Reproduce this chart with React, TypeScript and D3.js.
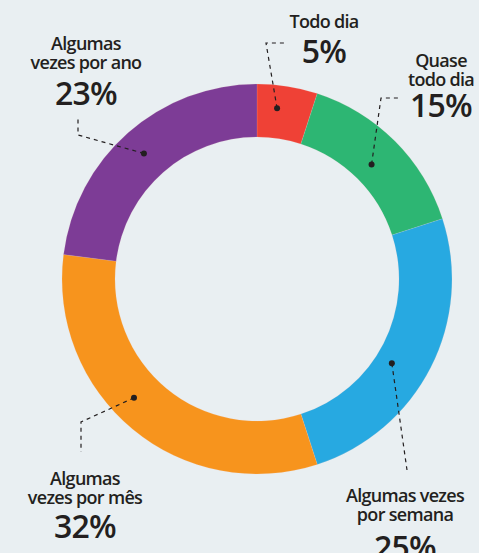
import React from 'react';
import * as d3 from 'd3';

const categories = ['Todo dia', 'Quase todo dia', 'Algumas vezes por semana', 'Algumas vezes por mês', 'Algumas vezes por ano'];
const values = [5, 15, 25, 32, 23];
const colors = ['#ef4136', '#2db673', '#27a9e1', '#f7941d', '#7d3c96'];
const labelLines = [
  ['Todo dia'],
  ['Quase', 'todo dia'],
  ['Algumas vezes', 'por semana'],
  ['Algumas', 'vezes por mês'],
  ['Algumas', 'vezes por ano'],
];

// label layout: text center x, first baseline, percent baseline, leader bends,
// dot offset from slice middle (degrees) and dot radius
const labelLayout = [
  { x: 324, y: 28, pctY: 63, bends: [[266, 43], [287, 43]], shift: -2.3, r: 172 },
  { x: 441, y: 67, pctY: 117, bends: [[381, 98], [401, 98]], shift: 0, r: 162 },
  { x: 405, y: 502, pctY: 559, bends: [[407, 470]], shift: 5, r: 159 },
  { x: 85, y: 485, pctY: 538, bends: [[81, 422], [81, 452]], shift: 6.4, r: 171 },
  { x: 86, y: 50, pctY: 105, bends: [[78, 135], [78, 117]], shift: -0.6, r: 169 },
];

const W = 479;
const H = 553;
const cx = 257;
const cy = 279;
const outerR = 195;
const innerR = 142;

export default function App() {
  const pie = d3.pie<number>().sort(null).value((d) => d);
  const arcs = pie(values);
  const arc = d3.arc<d3.PieArcDatum<number>>().innerRadius(innerR).outerRadius(outerR);
  const font = "'Open Sans', sans-serif";

  return (
    <div style={{ position: 'fixed', left: 0, top: 0 }}>
      <svg width={W} height={H} style={{ display: 'block', background: '#e9eff2' }}>
        <g transform={`translate(${cx},${cy})`}>
          {arcs.map((a, i) => (
            <path key={categories[i]} d={arc(a) || ''} fill={colors[i]} stroke="#f2c9c0" strokeOpacity={0.25} strokeWidth={0.6} />
          ))}
        </g>
        {arcs.map((a, i) => {
          const l = labelLayout[i];
          const ang = (a.startAngle + a.endAngle) / 2 + (l.shift * Math.PI) / 180;
          const px = cx + l.r * Math.sin(ang);
          const py = cy - l.r * Math.cos(ang);
          const pts: [number, number][] = [[px, py], ...(l.bends as [number, number][])];
          const line = d3.line()(pts) || '';
          return (
            <g key={'lead' + i}>
              <path d={line} fill="none" stroke="#231f20" strokeWidth={1.2} strokeDasharray="4,4" />
              <circle cx={px} cy={py} r={3} fill="#231f20" />
            </g>
          );
        })}
        {labelLayout.map((l, i) => (
          <g key={'lab' + i} fill="#231f20" fontFamily={font} textAnchor="middle">
            {labelLines[i].map((t, j) => (
              <text key={j} x={l.x} y={l.y + j * 19} fontSize={18} fontWeight={600} letterSpacing={-0.7}>
                {t}
              </text>
            ))}
            <text x={l.x} y={l.pctY} fontSize={32} fontWeight={600} letterSpacing={-0.8}>
              {values[i]}%
            </text>
          </g>
        ))}
      </svg>
    </div>
  );
}
